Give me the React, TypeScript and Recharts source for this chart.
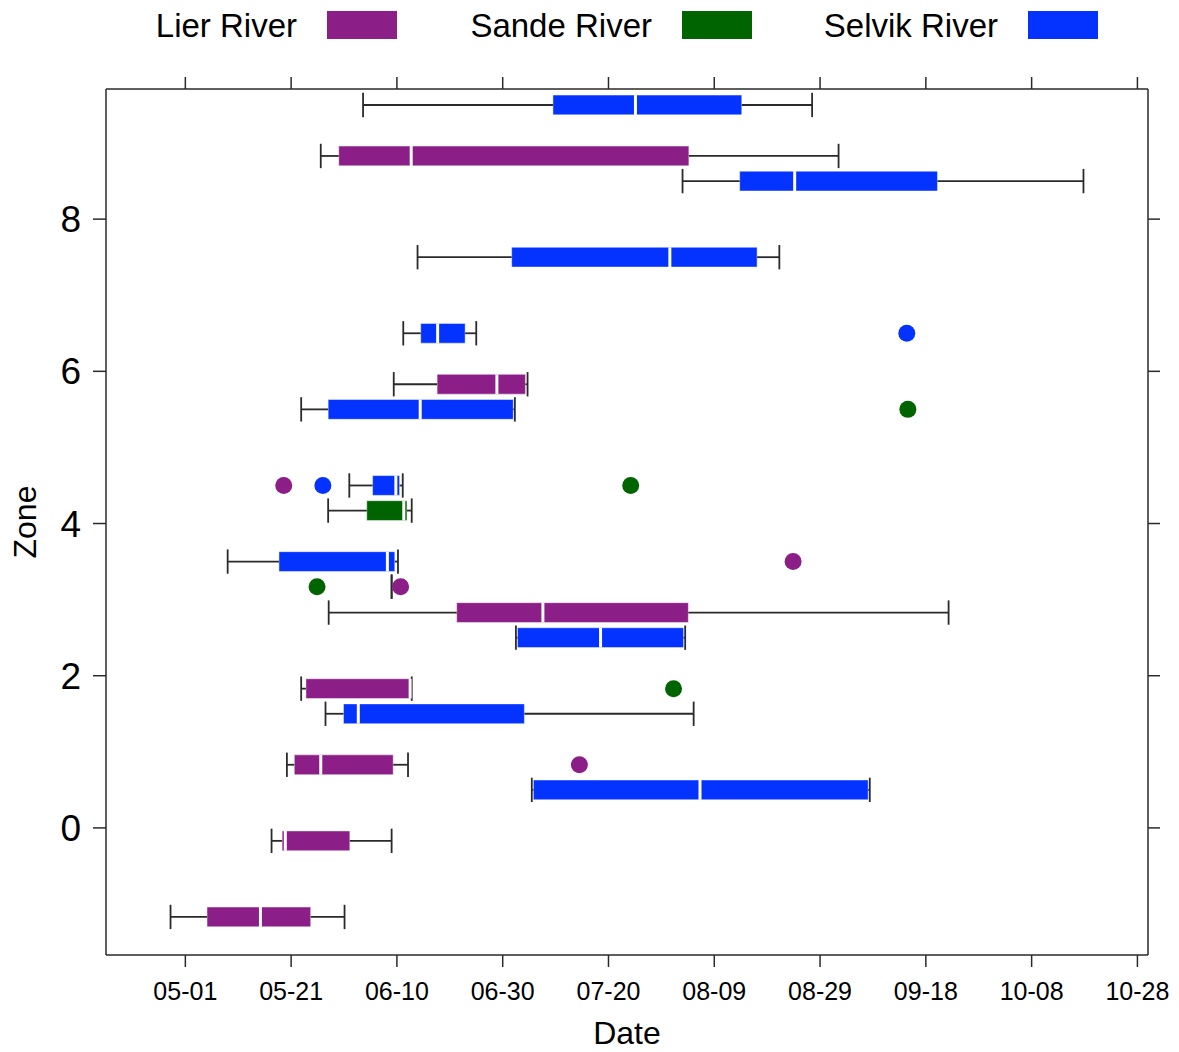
import {
  ComposedChart,
  XAxis,
  YAxis,
  Scatter,
  ReferenceArea,
  ReferenceLine,
} from "recharts";

// x values are days after 05-01, y values are zone positions
const dateTicks = [0, 20, 40, 60, 80, 100, 120, 140, 160, 180];
const zoneTicks = [0, 2, 4, 6, 8];

// [low whisker, q1, median, q3, high whisker]
const lierZones = [8.83, 5.83, 3.17, 2.83, 1.83, 0.83, -0.17, -1.17];
const lierStats = [
  [25.6, 29.0, 42.7, 95.2, 123.5],
  [39.4, 47.6, 58.9, 64.3, 64.7],
  [39.0, 39.0, 39.0, 39.0, 39.0],
  [27.1, 51.3, 67.6, 95.1, 144.3],
  [21.9, 22.8, 42.5, 42.5, 42.8],
  [19.2, 20.6, 25.6, 39.3, 42.1],
  [16.3, 18.3, 18.9, 31.1, 39.0],
  [-2.8, 4.1, 14.2, 23.7, 30.1],
];
const lierOutliers = [
  { x: 18.6, y: 4.5 },
  { x: 40.7, y: 3.17 },
  { x: 114.9, y: 3.5 },
  { x: 74.5, y: 0.83 },
];

const sandeZones = [4.17];
const sandeStats = [[27.0, 34.3, 41.3, 41.9, 42.8]];
const sandeOutliers = [
  { x: 24.9, y: 3.17 },
  { x: 84.2, y: 4.5 },
  { x: 92.3, y: 1.83 },
  { x: 136.6, y: 5.5 },
];

const selvikZones = [9.5, 8.5, 7.5, 6.5, 5.5, 4.5, 3.5, 2.5, 1.5, 0.5];
const selvikStats = [
  [33.6, 69.5, 85.1, 105.2, 118.5],
  [94.0, 104.8, 115.2, 142.2, 169.8],
  [43.9, 61.7, 91.6, 108.1, 112.3],
  [41.2, 44.5, 47.7, 52.9, 55.0],
  [21.9, 27.0, 44.4, 62.0, 62.3],
  [31.0, 35.4, 39.8, 40.5, 41.1],
  [8.0, 17.7, 38.2, 39.6, 40.2],
  [62.5, 62.8, 78.5, 94.2, 94.5],
  [26.5, 29.9, 32.7, 64.1, 96.1],
  [65.5, 65.8, 97.3, 129.1, 129.4],
];
const selvikOutliers = [
  { x: 26.0, y: 4.5 },
  { x: 136.4, y: 6.5 },
];

const rivers = [
  { name: "Lier River", color: "#8B1E87", zones: lierZones, stats: lierStats, outliers: lierOutliers },
  { name: "Sande River", color: "#006400", zones: sandeZones, stats: sandeStats, outliers: sandeOutliers },
  { name: "Selvik River", color: "#0433FF", zones: selvikZones, stats: selvikStats, outliers: selvikOutliers },
];

const FONT = "'Liberation Sans', Arial, Helvetica, sans-serif";
const INK = "#2a2a2a";
const BOX_H = 0.13;
const CAP_H = 0.16;

const fmtDate = (d: number) => {
  const dt = new Date(2015, 4, 1 + Math.round(d));
  return `${String(dt.getMonth() + 1).padStart(2, "0")}-${String(dt.getDate()).padStart(2, "0")}`;
};

const boxes = (river: (typeof rivers)[number]) => {
  const out: any[] = [];
  river.zones.forEach((z, i) => {
    const [lo, q1, med, q3, hi] = river.stats[i];
    const k = `${river.name}-${i}`;
    out.push(
      <ReferenceLine key={k + "wl"} segment={[{ x: lo, y: z }, { x: q1, y: z }]} stroke={INK} strokeWidth={1.8} ifOverflow="visible" />,
      <ReferenceLine key={k + "wh"} segment={[{ x: q3, y: z }, { x: hi, y: z }]} stroke={INK} strokeWidth={1.8} ifOverflow="visible" />,
      <ReferenceLine key={k + "cl"} segment={[{ x: lo, y: z - CAP_H }, { x: lo, y: z + CAP_H }]} stroke={INK} strokeWidth={1.8} ifOverflow="visible" />,
      <ReferenceLine key={k + "ch"} segment={[{ x: hi, y: z - CAP_H }, { x: hi, y: z + CAP_H }]} stroke={INK} strokeWidth={1.8} ifOverflow="visible" />
    );
    if (q3 > q1) {
      out.push(
        <ReferenceArea key={k + "box"} x1={q1} x2={q3} y1={z - BOX_H} y2={z + BOX_H} fill={river.color} fillOpacity={1} stroke="#ffffff" strokeOpacity={0.45} strokeWidth={1} ifOverflow="visible" />,
        <ReferenceLine key={k + "med"} segment={[{ x: med, y: z - BOX_H }, { x: med, y: z + BOX_H }]} stroke="#ffffff" strokeWidth={3} ifOverflow="visible" />
      );
    }
  });
  return out;
};

const TopLegend = () => (
  <div style={{ position: "absolute", left: 0, top: 0, width: 1179, height: 60, fontFamily: FONT }}>
    {[
      { right: 297, box: 327 },
      { right: 652, box: 682 },
      { right: 998, box: 1028 },
    ].map((pos, i) => (
      <div key={rivers[i].name}>
        <div style={{ position: "absolute", right: 1179 - pos.right, top: 9, fontSize: 33, lineHeight: "33px", color: "#000", whiteSpace: "nowrap" }}>
          {rivers[i].name}
        </div>
        <div style={{ position: "absolute", left: pos.box, top: 11, width: 70, height: 28, background: rivers[i].color }} />
      </div>
    ))}
  </div>
);

export default function App() {
  return (
    <div style={{ position: "absolute", left: 0, top: 0, width: 1179, height: 1052, background: "#fff" }}>
      <TopLegend />
      <ComposedChart
        width={1179}
        height={1052}
        margin={{ top: 69, right: 11, bottom: 0, left: 36 }}
        style={{ fontFamily: FONT }}
      >
        <XAxis
          dataKey="x"
          type="number"
          domain={[-15, 182]}
          allowDataOverflow
          ticks={dateTicks}
          interval={0}
          tickFormatter={fmtDate}
          height={97}
          tickSize={12}
          tickMargin={15}
          axisLine={{ stroke: INK, strokeWidth: 1.5 }}
          tickLine={{ stroke: INK, strokeWidth: 1.5 }}
          tick={{ fontSize: 25, fill: "#000", fontFamily: FONT }}
          label={{ value: "Date", position: "insideBottom", offset: 8, style: { fontSize: 32, fill: "#000", fontFamily: FONT } }}
        />
        <XAxis
          xAxisId="top"
          orientation="top"
          dataKey="x"
          type="number"
          domain={[-15, 182]}
          allowDataOverflow
          ticks={dateTicks}
          interval={0}
          tickFormatter={() => ""}
          height={20}
          tickSize={12}
          axisLine={{ stroke: INK, strokeWidth: 1.5 }}
          tickLine={{ stroke: INK, strokeWidth: 1.5 }}
        />
        <YAxis
          dataKey="y"
          type="number"
          domain={[-1.67, 9.71]}
          allowDataOverflow
          ticks={zoneTicks}
          interval={0}
          width={70}
          tickSize={13}
          tickMargin={12}
          axisLine={{ stroke: INK, strokeWidth: 1.5 }}
          tickLine={{ stroke: INK, strokeWidth: 1.5 }}
          tick={{ fontSize: 37, fill: "#000", fontFamily: FONT }}
          label={{ value: "Zone", angle: -90, position: "insideLeft", offset: -11, style: { fontSize: 32, fill: "#000", fontFamily: FONT, textAnchor: "middle" } }}
        />
        <YAxis
          yAxisId="right"
          orientation="right"
          dataKey="y"
          type="number"
          domain={[-1.67, 9.71]}
          allowDataOverflow
          ticks={zoneTicks}
          interval={0}
          width={20}
          tickSize={12}
          tickFormatter={() => ""}
          axisLine={{ stroke: INK, strokeWidth: 1.5 }}
          tickLine={{ stroke: INK, strokeWidth: 1.5 }}
        />
        {rivers.flatMap((r) => boxes(r))}
        {rivers.map((r) => (
          <Scatter
            key={r.name + "-out"}
            name={r.name}
            data={r.outliers}
            isAnimationActive={false}
            shape={(p: any) => <circle cx={p.cx} cy={p.cy} r={8.5} fill={r.color} />}
          />
        ))}
      </ComposedChart>
    </div>
  );
}
